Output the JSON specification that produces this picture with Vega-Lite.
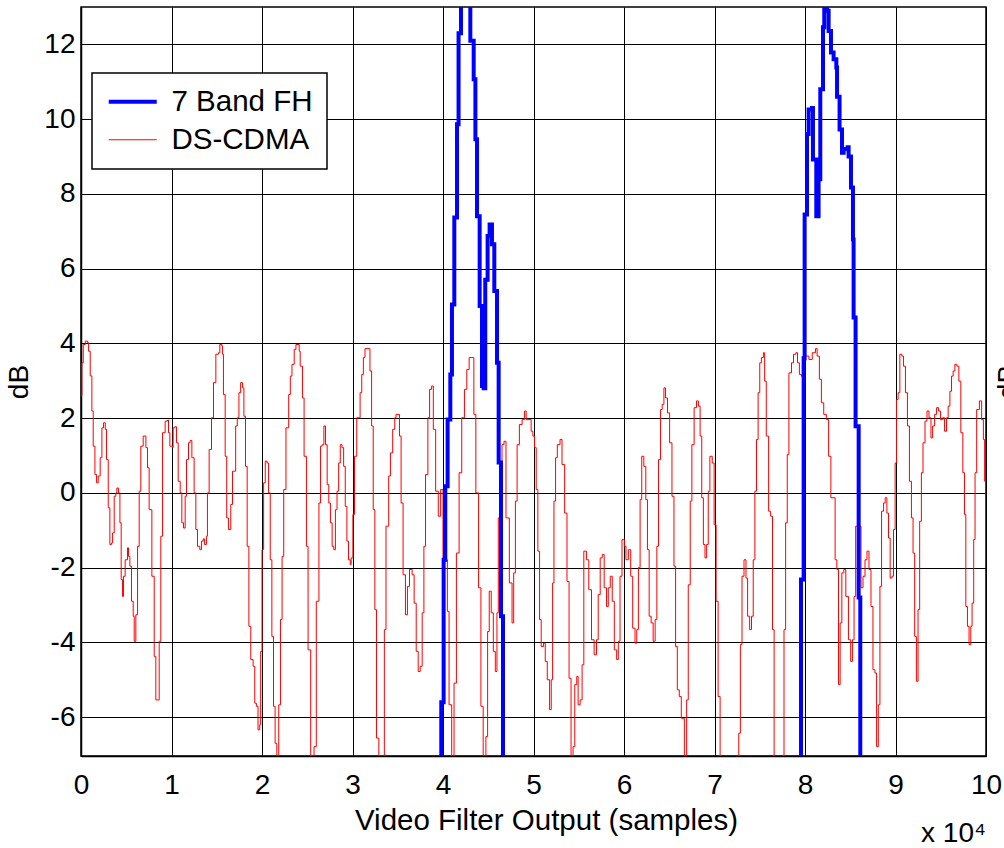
{
"$schema":"https://vega.github.io/schema/vega-lite/v6.json",
"autosize":"none",
"width":905,"height":749,
"padding":{"left":81,"top":7,"right":18,"bottom":92},
"background":"white",
"title":{"text":"x 10⁴","orient":"bottom","anchor":"end","frame":"group","fontSize":28,"fontWeight":"normal","font":"Liberation Sans","color":"black","offset":-15},
"datasets":{
"red":[
{"x":0,"y":2.6},{"x":0.010,"y":3.48},{"x":0.025,"y":3.97},{"x":0.047,"y":4.06},{"x":0.073,"y":4.02},{"x":0.084,"y":3.79},{"x":0.102,"y":3.13},{"x":0.120,"y":2.19},{"x":0.135,"y":1.25},{"x":0.154,"y":0.49},{"x":0.172,"y":0.27},{"x":0.190,"y":0.45},{"x":0.212,"y":0.94},{"x":0.231,"y":1.74},{"x":0.249,"y":1.875},{"x":0.268,"y":1.70},{"x":0.282,"y":0.89},{"x":0.301,"y":-0.40},{"x":0.319,"y":-1.38},{"x":0.337,"y":-1.34},{"x":0.349,"y":-1.07},{"x":0.367,"y":-0.09},{"x":0.385,"y":0},{"x":0.396,"y":0.13},{"x":0.415,"y":0},{"x":0.430,"y":-0.80},{"x":0.444,"y":-2.32},{"x":0.459,"y":-2.77},{"x":0.470,"y":-2.23},{"x":0.488,"y":-1.79},{"x":0.514,"y":-1.47},{"x":0.525,"y":-1.70},{"x":0.540,"y":-1.96},{"x":0.558,"y":-2.90},{"x":0.577,"y":-3.30},{"x":0.588,"y":-3.97},{"x":0.606,"y":-3.26},{"x":0.625,"y":-1.43},{"x":0.643,"y":0.045},{"x":0.661,"y":1.25},{"x":0.687,"y":1.52},{"x":0.717,"y":1.21},{"x":0.735,"y":0.67},{"x":0.753,"y":-0.45},{"x":0.783,"y":-2.23},{"x":0.809,"y":-4.375},{"x":0.827,"y":-5.54},{"x":0.864,"y":-3.97},{"x":0.882,"y":-1.16},{"x":0.901,"y":1.61},{"x":0.930,"y":1.92},{"x":0.956,"y":1.95},{"x":0.967,"y":1.61},{"x":0.982,"y":1.25},{"x":1.011,"y":1.21},{"x":1.018,"y":1.74},{"x":1.037,"y":1.77},{"x":1.055,"y":1.34},{"x":1.074,"y":0.31},{"x":1.096,"y":0},{"x":1.114,"y":-0.80},{"x":1.133,"y":-0.94},{"x":1.151,"y":-0.09},{"x":1.166,"y":0.89},{"x":1.188,"y":1.34},{"x":1.206,"y":1.40},{"x":1.225,"y":0.94},{"x":1.250,"y":0},{"x":1.269,"y":-0.98},{"x":1.287,"y":-1.43},{"x":1.313,"y":-1.52},{"x":1.331,"y":-1.29},{"x":1.350,"y":-1.23},{"x":1.364,"y":-1.38},{"x":1.386,"y":-1.16},{"x":1.397,"y":0},{"x":1.416,"y":1.16},{"x":1.442,"y":2.01},{"x":1.464,"y":2.95},{"x":1.490,"y":3.71},{"x":1.519,"y":3.75},{"x":1.534,"y":3.97},{"x":1.556,"y":3.93},{"x":1.563,"y":3.71},{"x":1.574,"y":2.63},{"x":1.593,"y":0.98},{"x":1.610,"y":-0.67},{"x":1.629,"y":-0.98},{"x":1.655,"y":-0.31},{"x":1.674,"y":0.58},
{"x":1.709,"y":1.79},{"x":1.727,"y":2.01},{"x":1.745,"y":2.68},{"x":1.764,"y":2.95},{"x":1.785,"y":2.81},{"x":1.8,"y":2.05},{"x":1.818,"y":0.71},{"x":1.836,"y":-1.43},{"x":1.855,"y":-3.57},{"x":1.876,"y":-4.46},{"x":1.902,"y":-4.64},{"x":1.92,"y":-5.625},{"x":1.938,"y":-5.71},{"x":1.956,"y":-6.34},{"x":1.975,"y":-6.2},{"x":1.985,"y":-4.24},{"x":2.0,"y":-1.52},{"x":2.018,"y":0.27},{"x":2.036,"y":0.85},{"x":2.055,"y":0.80},{"x":2.073,"y":0},{"x":2.091,"y":-1.79},{"x":2.109,"y":-3.84},{"x":2.127,"y":-5.71},{"x":2.145,"y":-6.70},{"x":2.164,"y":-8},{"x":2.185,"y":-5.67},{"x":2.204,"y":-3.39},{"x":2.222,"y":-1.70},{"x":2.24,"y":0.09},{"x":2.265,"y":1.74},{"x":2.295,"y":2.63},{"x":2.313,"y":3.125},{"x":2.331,"y":3.44},{"x":2.356,"y":3.84},{"x":2.375,"y":3.97},{"x":2.411,"y":3.79},{"x":2.422,"y":3.39},{"x":2.447,"y":2.54},{"x":2.465,"y":0.98},{"x":2.491,"y":-1.43},{"x":2.509,"y":-4.2},{"x":2.538,"y":-8},{"x":2.575,"y":-6.79},{"x":2.6,"y":-2.9},{"x":2.629,"y":-0.27},{"x":2.647,"y":1.25},{"x":2.665,"y":1.29},{"x":2.684,"y":1.79},{"x":2.702,"y":1.29},{"x":2.72,"y":0.22},{"x":2.738,"y":-0.27},{"x":2.756,"y":-0.8},{"x":2.775,"y":-1.43},{"x":2.793,"y":-1.52},{"x":2.811,"y":-0.45},{"x":2.829,"y":0.045},{"x":2.847,"y":0.80},{"x":2.865,"y":1.29},{"x":2.884,"y":1.21},{"x":2.902,"y":0.71},{"x":2.92,"y":-0.36},{"x":2.938,"y":-1.29},{"x":2.956,"y":-1.79},{"x":2.975,"y":-1.92},{"x":2.985,"y":-1.74},{"x":3.004,"y":-0.58},{"x":3.022,"y":0.98},{"x":3.047,"y":2.01},{"x":3.084,"y":2.68},{"x":3.102,"y":3.17},{"x":3.12,"y":3.62},{"x":3.138,"y":3.86},{"x":3.193,"y":3.26},{"x":3.211,"y":1.79},{"x":3.229,"y":-0.45},{"x":3.247,"y":-3.125},{"x":3.265,"y":-6.56},{"x":3.291,"y":-8},
{"x":3.352,"y":-3.66},{"x":3.370,"y":-0.89},{"x":3.4,"y":0.45},{"x":3.419,"y":1.07},{"x":3.444,"y":1.70},{"x":3.467,"y":2.01},{"x":3.481,"y":2.10},{"x":3.519,"y":1.52},{"x":3.537,"y":-0.27},{"x":3.559,"y":-2.19},{"x":3.585,"y":-3.26},{"x":3.607,"y":-2.5},{"x":3.63,"y":-2.05},{"x":3.659,"y":-2.19},{"x":3.681,"y":-2.95},{"x":3.704,"y":-4.24},{"x":3.726,"y":-4.78},{"x":3.748,"y":-4.64},{"x":3.770,"y":-3.21},{"x":3.789,"y":-1.43},{"x":3.807,"y":0.49},{"x":3.833,"y":2.01},{"x":3.852,"y":2.77},{"x":3.874,"y":2.86},{"x":3.893,"y":1.70},{"x":3.919,"y":0.045},{"x":3.948,"y":-0.625},{"x":3.974,"y":0.09},{"x":4.0,"y":-1.79},{"x":4.048,"y":-3.17},{"x":4.067,"y":-5.67},{"x":4.096,"y":-8},{"x":4.122,"y":-5.09},{"x":4.148,"y":-1.61},{"x":4.178,"y":0.54},{"x":4.207,"y":2.01},{"x":4.237,"y":2.77},{"x":4.263,"y":3.30},{"x":4.289,"y":3.62},{"x":4.341,"y":2.10},{"x":4.363,"y":0},{"x":4.393,"y":-2.54},{"x":4.419,"y":-5.71},{"x":4.444,"y":-8},{"x":4.474,"y":-6.52},{"x":4.493,"y":-3.71},{"x":4.511,"y":-2.63},{"x":4.533,"y":-3.21},{"x":4.556,"y":-4.24},{"x":4.578,"y":-4.78},{"x":4.596,"y":-3.21},{"x":4.611,"y":-0.67},{"x":4.630,"y":0.80},{"x":4.652,"y":1.29},{"x":4.674,"y":1.38},{"x":4.696,"y":-0.67},{"x":4.733,"y":-2.41},{"x":4.763,"y":-3.48},{"x":4.781,"y":-2.14},{"x":4.8,"y":-0.22},{"x":4.819,"y":1.29},{"x":4.844,"y":1.83},{"x":4.874,"y":1.96},{"x":4.9,"y":2.19},{"x":4.919,"y":1.96},
{"x":4.974,"y":1.65},{"x":4.993,"y":1.52},{"x":5.011,"y":1.21},{"x":5.03,"y":0.09},{"x":5.048,"y":-1.56},{"x":5.067,"y":-3.39},{"x":5.085,"y":-4.11},{"x":5.111,"y":-4.02},{"x":5.13,"y":-4.51},{"x":5.152,"y":-5.0},{"x":5.178,"y":-5.80},{"x":5.196,"y":-5.0},{"x":5.211,"y":-2.41},{"x":5.226,"y":-0.22},{"x":5.244,"y":0.94},{"x":5.263,"y":1.29},{"x":5.293,"y":1.43},{"x":5.315,"y":0.76},{"x":5.344,"y":-0.54},{"x":5.37,"y":-2.37},{"x":5.393,"y":-4.96},{"x":5.415,"y":-8},{"x":5.437,"y":-6.79},{"x":5.456,"y":-5.13},{"x":5.478,"y":-4.91},{"x":5.493,"y":-5.67},{"x":5.515,"y":-5.54},{"x":5.537,"y":-4.6},{"x":5.556,"y":-1.56},{"x":5.585,"y":-1.79},{"x":5.611,"y":-2.59},{"x":5.641,"y":-3.93},{"x":5.67,"y":-4.33},{"x":5.696,"y":-3.93},{"x":5.715,"y":-2.72},{"x":5.737,"y":-1.74},{"x":5.759,"y":-1.65},{"x":5.781,"y":-2.54},{"x":5.807,"y":-3.04},{"x":5.826,"y":-2.54},{"x":5.848,"y":-2.23},{"x":5.87,"y":-2.90},{"x":5.893,"y":-4.2},{"x":5.919,"y":-4.46},{"x":5.937,"y":-3.97},{"x":5.956,"y":-2.23},{"x":5.978,"y":-1.25},{"x":6.004,"y":-1.43},{"x":6.022,"y":-1.79},{"x":6.048,"y":-1.52},{"x":6.074,"y":-2.23},{"x":6.096,"y":-3.62},{"x":6.122,"y":-4.02},{"x":6.141,"y":-3.66},{"x":6.159,"y":-2.0},{"x":6.178,"y":-0.18},{"x":6.196,"y":0.98},{"x":6.219,"y":0.71},{"x":6.241,"y":-0.18},{"x":6.259,"y":-1.52},{"x":6.278,"y":-3.30},{"x":6.3,"y":-3.48},{"x":6.322,"y":-3.97},{"x":6.344,"y":-3.39},{"x":6.363,"y":-1.43},{"x":6.381,"y":0.89},{"x":6.404,"y":2.23},{"x":6.422,"y":2.37},{"x":6.441,"y":2.81},{"x":6.459,"y":2.54},{"x":6.481,"y":2.14},{"x":6.504,"y":1.34},{"x":6.53,"y":-0.09},{"x":6.552,"y":-1.96},{"x":6.57,"y":-4.11},{"x":6.589,"y":-5.27},{"x":6.611,"y":-5.45},{"x":6.633,"y":-6.03},
{"x":6.667,"y":-8},{"x":6.692,"y":-5.54},{"x":6.71,"y":-2.46},{"x":6.732,"y":-0.22},{"x":6.75,"y":1.29},{"x":6.775,"y":2.28},{"x":6.801,"y":2.46},{"x":6.822,"y":2.32},{"x":6.841,"y":1.52},{"x":6.859,"y":-0.13},{"x":6.877,"y":-1.38},{"x":6.895,"y":-1.74},{"x":6.913,"y":-1.38},{"x":6.931,"y":0.045},{"x":6.949,"y":0.98},{"x":6.975,"y":0.80},{"x":6.996,"y":-0.85},{"x":7.018,"y":-2.90},{"x":7.04,"y":-5.45},{"x":7.062,"y":-8},{"x":7.268,"y":-6.43},{"x":7.286,"y":-4.06},{"x":7.304,"y":-2.23},{"x":7.326,"y":-1.79},{"x":7.348,"y":-2.28},{"x":7.366,"y":-3.30},{"x":7.388,"y":-3.66},{"x":7.409,"y":-3.30},{"x":7.428,"y":-1.79},{"x":7.446,"y":0.045},{"x":7.464,"y":1.43},{"x":7.482,"y":2.68},{"x":7.5,"y":3.48},{"x":7.518,"y":3.62},{"x":7.540,"y":3.75},{"x":7.554,"y":2.99},{"x":7.572,"y":1.52},{"x":7.598,"y":-0.49},{"x":7.62,"y":-0.625},{"x":7.641,"y":-3.66},{"x":7.659,"y":-8},{"x":7.768,"y":-3.66},{"x":7.786,"y":-0.80},{"x":7.804,"y":1.03},{"x":7.822,"y":3.21},{"x":7.851,"y":3.48},{"x":7.873,"y":3.71},{"x":7.899,"y":3.75},{"x":7.917,"y":3.48},{"x":7.938,"y":3.17},{"x":7.96,"y":3.125},{"x":7.982,"y":3.62},{"x":8.007,"y":3.66},{"x":8.043,"y":3.57},{"x":8.08,"y":3.75},{"x":8.116,"y":3.86},{"x":8.134,"y":3.66},{"x":8.159,"y":3.04},{"x":8.181,"y":2.41},{"x":8.207,"y":2.10},{"x":8.236,"y":1.96},{"x":8.261,"y":0.98},{"x":8.286,"y":-0.13},
{"x":8.333,"y":-1.79},{"x":8.352,"y":-2.05},{"x":8.37,"y":-5.13},{"x":8.388,"y":-3.48},{"x":8.407,"y":-2.14},{"x":8.429,"y":-2.05},{"x":8.451,"y":-2.77},{"x":8.48,"y":-3.93},{"x":8.505,"y":-4.51},{"x":8.524,"y":-3.93},{"x":8.542,"y":-2.77},{"x":8.56,"y":-0.89},{"x":8.582,"y":-0.18},{"x":8.601,"y":-0.89},{"x":8.619,"y":-2.54},{"x":8.641,"y":-2.23},{"x":8.663,"y":-1.79},{"x":8.685,"y":-1.56},{"x":8.707,"y":-2.05},{"x":8.729,"y":-3.04},{"x":8.751,"y":-4.73},{"x":8.773,"y":-4.82},{"x":8.791,"y":-6.79},{"x":8.81,"y":-5.67},{"x":8.828,"y":-2.5},{"x":8.846,"y":-0.49},{"x":8.868,"y":-0.27},{"x":8.886,"y":-0.13},{"x":8.905,"y":-0.54},{"x":8.923,"y":-1.21},{"x":8.941,"y":-2.28},{"x":8.96,"y":-2.23},{"x":8.978,"y":-0.98},{"x":8.996,"y":0.80},{"x":9.011,"y":2.5},{"x":9.029,"y":2.68},{"x":9.048,"y":3.71},{"x":9.07,"y":3.66},{"x":9.088,"y":3.39},{"x":9.11,"y":2.68},{"x":9.132,"y":1.79},{"x":9.154,"y":0.31},{"x":9.176,"y":-0.67},{"x":9.194,"y":-1.61},{"x":9.212,"y":-3.84},{"x":9.231,"y":-5.04},{"x":9.249,"y":-3.125},{"x":9.267,"y":-0.76},{"x":9.286,"y":0.54},{"x":9.304,"y":1.34},{"x":9.326,"y":1.92},{"x":9.348,"y":2.19},{"x":9.37,"y":2.01},{"x":9.392,"y":1.47},{"x":9.41,"y":1.79},{"x":9.432,"y":2.10},{"x":9.454,"y":2.28},{"x":9.476,"y":2.19},{"x":9.498,"y":1.96},{"x":9.52,"y":2.01},{"x":9.542,"y":1.65},{"x":9.564,"y":2.01},{"x":9.582,"y":2.32},{"x":9.601,"y":2.72},{"x":9.619,"y":3.125},{"x":9.637,"y":3.26},{"x":9.656,"y":3.44},{"x":9.678,"y":3.39},{"x":9.7,"y":2.99},{"x":9.722,"y":1.61},{"x":9.744,"y":0.54},{"x":9.762,"y":-0.58},{"x":9.777,"y":-3.04},{"x":9.795,"y":-3.57},{"x":9.813,"y":-4.06},{"x":9.832,"y":-3.57},{"x":9.846,"y":-2.95},{"x":9.864,"y":-1.25},{"x":9.879,"y":0.54},{"x":9.897,"y":2.23},{"x":9.927,"y":2.46},{"x":9.952,"y":1.96},{"x":9.971,"y":1.43},{"x":9.985,"y":0.31},{"x":10.0,"y":-1.875}
],
"blue":[
{"x":3.9,"y":-20},{"x":3.981,"y":-5.6},{"x":4.007,"y":-1.79},{"x":4.025,"y":0.18},{"x":4.051,"y":1.96},{"x":4.081,"y":3.17},{"x":4.099,"y":5.04},{"x":4.125,"y":7.37},{"x":4.155,"y":9.86},{"x":4.172,"y":12.3},{"x":4.199,"y":13.3},{"x":4.302,"y":12.1},{"x":4.339,"y":11.07},{"x":4.358,"y":9.46},{"x":4.376,"y":7.4},{"x":4.405,"y":5.0},{"x":4.431,"y":2.86},{"x":4.449,"y":2.8},{"x":4.467,"y":5.7},{"x":4.493,"y":6.87},{"x":4.515,"y":7.18},{"x":4.541,"y":6.65},{"x":4.567,"y":5.4},{"x":4.597,"y":3.48},{"x":4.615,"y":0.81},{"x":4.641,"y":-3.3},{"x":4.663,"y":-20},
{"x":7.956,"y":-2.32},{"x":7.985,"y":3.6},{"x":7.996,"y":7.45},{"x":8.022,"y":9.6},{"x":8.040,"y":10.26},{"x":8.077,"y":10.3},{"x":8.088,"y":8.92},{"x":8.125,"y":7.4},{"x":8.150,"y":8.39},{"x":8.169,"y":10.8},{"x":8.199,"y":12.46},{"x":8.213,"y":13.2},{"x":8.243,"y":12.9},{"x":8.261,"y":12.36},{"x":8.287,"y":11.78},{"x":8.316,"y":11.6},{"x":8.346,"y":11.38},{"x":8.354,"y":10.6},{"x":8.382,"y":9.72},{"x":8.409,"y":9.1},{"x":8.427,"y":9.2},{"x":8.471,"y":9.25},{"x":8.482,"y":9.0},{"x":8.508,"y":8.17},{"x":8.530,"y":6.78},{"x":8.537,"y":4.69},{"x":8.559,"y":1.78},{"x":8.593,"y":-2.8},{"x":8.611,"y":-20},{"x":9,"y":-20}
]
},
"layer":[
{"data":{"name":"red"},
 "transform":[{"calculate":"'DS-CDMA'","as":"series"}],
 "mark":{"type":"line","interpolate":"step-after","clip":true},
 "encoding":{
  "x":{"field":"x","type":"quantitative","scale":{"domain":[0,10],"nice":false,"zero":false},
       "axis":{"values":[0,1,2,3,4,5,6,7,8,9,10],"labelExpr":"'' + datum.value","title":"Video Filter Output (samples)","titleFontSize":29.5,"titleX":465,"labelPadding":15,"titlePadding":7,"labelFlush":false}},
  "y":{"field":"y","type":"quantitative","scale":{"domain":[-7.04,13],"nice":false,"zero":false},
       "axis":{"values":[-6,-4,-2,0,2,4,6,8,10,12],"labelExpr":"datum.value < 0 ? '-' + abs(datum.value) : '' + datum.value","title":"dB","labelPadding":6,"titlePadding":10}},
  "color":{"field":"series","type":"nominal","scale":{"domain":["7 Band FH","DS-CDMA"],"range":["#0000ff","#ff0000"]},"legend":{"title":null}},
  "strokeWidth":{"field":"series","type":"nominal","scale":{"domain":["7 Band FH","DS-CDMA"],"range":[4,1]},"legend":{"title":null}}
 }},
{"data":{"name":"blue"},
 "transform":[{"calculate":"'7 Band FH'","as":"series"}],
 "mark":{"type":"line","interpolate":"step-after","clip":true},
 "encoding":{
  "x":{"field":"x","type":"quantitative"},
  "y":{"field":"y","type":"quantitative",
       "axis":{"orient":"right","title":"dB","labels":false,"ticks":false,"domain":false,"grid":false,"titleAngle":270,"titleBaseline":"top","titlePadding":8}},
  "color":{"field":"series","type":"nominal","legend":{"title":null}},
  "strokeWidth":{"field":"series","type":"nominal","legend":{"title":null}}
 }}
],
"resolve":{"axis":{"y":"independent"}},
"config":{
 "font":"Liberation Sans",
 "view":{"stroke":"black","strokeWidth":1.5},
 "axis":{"grid":true,"gridColor":"black","gridOpacity":1,"gridWidth":1,"domainColor":"black","domainWidth":1.5,"ticks":false,"tickSize":0,"labelFontSize":28,"labelColor":"black","labelFont":"Liberation Sans","titleFont":"Liberation Sans","titleFontSize":28,"titleFontWeight":"normal","titleColor":"black"},
 "legend":{"orient":"none","legendX":11,"legendY":66,"symbolType":"M-1,0H3","symbolSize":576,"labelOffset":36,"padding":14,"rowPadding":7,"labelFontSize":29.5,"labelFont":"Liberation Sans","labelColor":"black","fillColor":"white","strokeColor":"black","strokeWidth":1.5}
}
}
